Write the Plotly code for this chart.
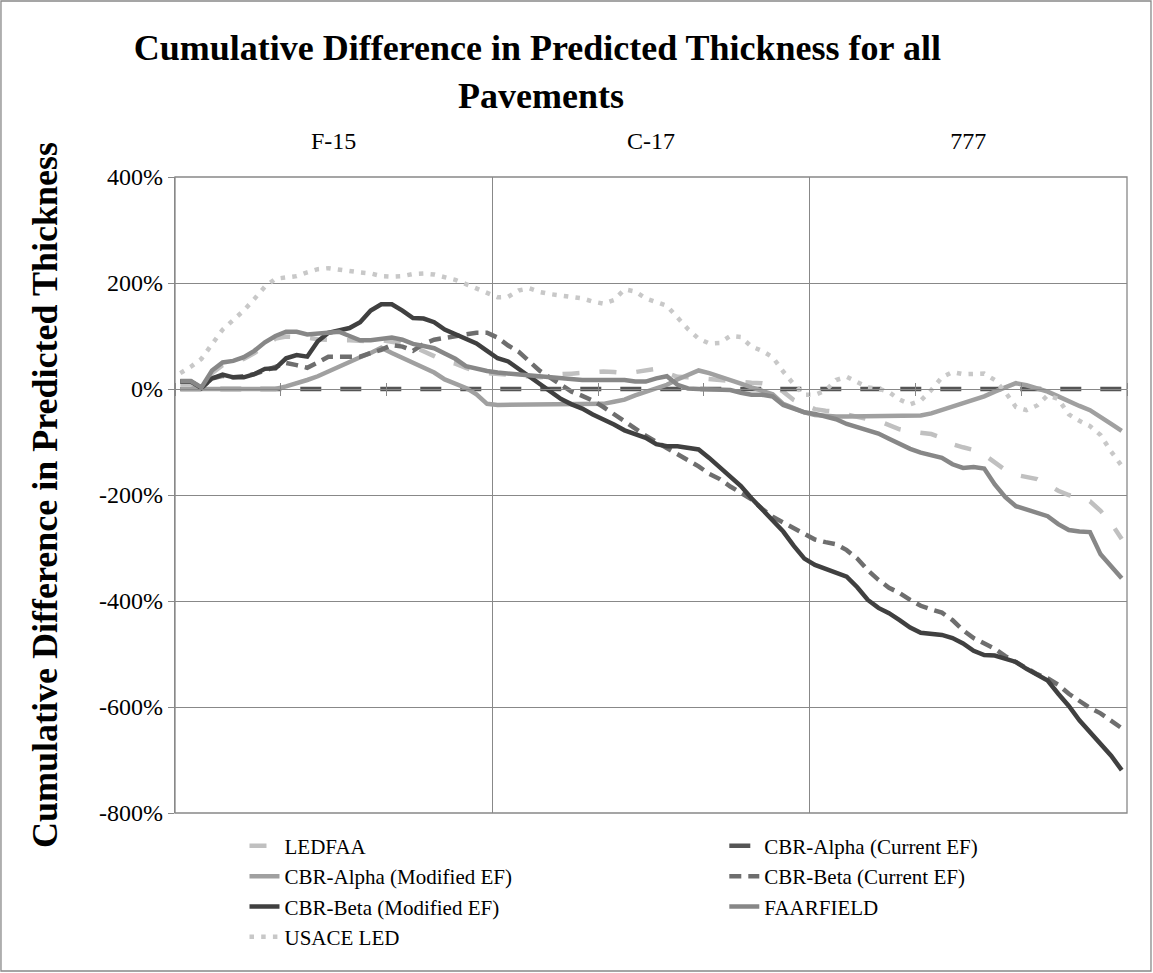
import plotly.graph_objects as go

# 30 pavement cases per aircraft, 90 points in all
groups = ["F-15", "C-17", "777"]
x = list(range(90))
y_ticks = [-800, -600, -400, -200, 0, 200, 400]
y_tick_text = ["-800%", "-600%", "-400%", "-200%", "0%", "200%", "400%"]

ledfaa = [10, 10, 2, 30, 45, 50, 57, 68, 82, 95,
          99, 99, 97, 94, 92, 92, 92, 90, 90, 92,
          90, 86, 80, 72, 62, 52, 48, 40, 32, 30,
          28, 26, 24, 22, 22, 24, 28, 29, 31, 33,
          33, 32, 30, 32, 36, 38, 30, 23, 22, 20,
          18, 17, 15, 14, 12, 11, 8, -5, -21, -30,
          -38, -41, -43, -48, -53, -57, -60, -68, -76, -80,
          -82, -85, -92, -104, -110, -115, -124, -138, -153, -162,
          -166, -170, -180, -192, -200, -206, -212, -230, -253, -283]

alpha_current = [0] * 90

alpha_modified = [0, 0, 0, 0, 0, 0, 0, 0, 0, 0,
                  5, 10, 17, 24, 33, 44, 52, 60, 68, 78,
                  68, 59, 50, 40, 31, 18, 10, 2, -10, -28,
                  -30, -30, -30, -30, -30, -30, -30, -30, -30, -30,
                  -28, -24, -20, -12, -5, 0, 8, 18, 27, 35,
                  30, 24, 18, 10, 3, -3, -10, -28, -36, -44,
                  -49, -51, -52, -52, -52, -52, -52, -52, -52, -52,
                  -50, -46, -40, -34, -28, -21, -14, -5, 4, 11,
                  7, 1, -5, -14, -24, -32, -40, -52, -66, -79]

beta_current = [14, 14, 2, 20, 25, 22, 24, 28, 35, 42,
                49, 45, 40, 50, 61, 61, 60, 61, 68, 74,
                83, 80, 72, 85, 93, 97, 100, 103, 106, 106,
                97, 82, 70, 52, 34, 21, 8, -5, -13, -22,
                -34, -48, -62, -75, -88, -100, -111, -122, -134, -146,
                -160, -170, -184, -195, -208, -226, -241, -252, -263, -272,
                -284, -289, -293, -304, -320, -342, -360, -375, -385, -398,
                -409, -416, -422, -436, -455, -470, -481, -490, -504, -515,
                -528, -538, -546, -558, -575, -588, -602, -612, -625, -640]

beta_modified = [14, 14, 2, 20, 27, 22, 22, 28, 38, 39,
                 58, 64, 61, 90, 106, 110, 115, 126, 148, 160,
                 160, 148, 134, 133, 126, 112, 103, 95, 86, 72,
                 58, 52, 38, 24, 10, -6, -19, -29, -37, -48,
                 -57, -67, -78, -85, -92, -104, -108, -108, -110, -114,
                 -130, -148, -165, -183, -206, -228, -250, -269, -296, -320,
                 -332, -340, -346, -354, -374, -398, -413, -423, -436, -450,
                 -460, -463, -464, -470, -480, -494, -502, -503, -508, -515,
                 -528, -540, -550, -575, -598, -625, -647, -667, -692, -719]

faarfield = [15, 15, 3, 35, 50, 53, 60, 72, 88, 100,
             108, 108, 103, 105, 108, 108, 100, 92, 92, 94,
             97, 93, 85, 81, 77, 67, 57, 43, 38, 34,
             31, 29, 27, 25, 23, 21, 19, 18, 17, 17,
             17, 17, 17, 14, 14, 20, 24, 8, 1, 0,
             0, -1, -2, -7, -11, -11, -14, -30, -38, -44,
             -47, -52, -57, -66, -72, -78, -84, -94, -104, -113,
             -120, -126, -130, -142, -149, -147, -150, -180, -204, -221,
             -228, -234, -240, -255, -266, -269, -270, -312, -336, -357]

usace_led = [30, 42, 57, 86, 112, 130, 148, 170, 193, 208,
             211, 213, 220, 226, 228, 225, 221, 220, 218, 213,
             212, 213, 217, 218, 216, 211, 206, 198, 190, 180,
             173, 174, 186, 190, 183, 179, 177, 175, 171, 165,
             161, 168, 188, 184, 171, 164, 157, 135, 113, 95,
             86, 87, 100, 98, 80, 72, 60, 33, 9, -11,
             -11, -3, 17, 23, 12, 3, 1, -6, -20, -29,
             -22, -2, 22, 32, 28, 28, 29, 17, -6, -34,
             -40, -31, -12, -19, -48, -60, -70, -87, -118, -145]

# name, values, colour, dash, width, legend column
series = [
    ("LEDFAA", ledfaa, "#c0c0c0", "17px,20px", 4.5, "legend"),
    ("CBR-Alpha (Current EF)", alpha_current, "#555555", "21px,19px", 4.5, "legend2"),
    ("CBR-Alpha (Modified EF)", alpha_modified, "#a0a0a0", "solid", 4.5, "legend"),
    ("CBR-Beta (Current EF)", beta_current, "#6e6e6e", "12px,7px", 4.5, "legend2"),
    ("CBR-Beta (Modified EF)", beta_modified, "#404040", "solid", 4.5, "legend"),
    ("FAARFIELD", faarfield, "#878787", "solid", 4.5, "legend2"),
    ("USACE LED", usace_led, "#c8c8c8", "4.5px,7.2px", 4.5, "legend"),
]

serif = "Liberation Serif, Times New Roman, serif"
grid = "#888888"

fig = go.Figure()
for name, vals, color, dash, width, leg in series:
    fig.add_trace(go.Scatter(
        x=x, y=vals, name=name, mode="lines", legend=leg,
        line=dict(color=color, dash=dash, width=width),
    ))

# top axis carrying the aircraft names
fig.add_trace(go.Scatter(x=[0, 89], y=[None, None], xaxis="x2",
                         showlegend=False, hoverinfo="skip"))
# upward tick marks on the zero line
fig.add_trace(go.Scatter(x=[0, 89], y=[None, None], xaxis="x3",
                         showlegend=False, hoverinfo="skip"))

legend_style = dict(orientation="v", yanchor="top", y=-0.02, xanchor="left",
                    font=dict(size=21, family=serif), bgcolor="rgba(0,0,0,0)")

fig.update_layout(
    width=1153, height=973,
    paper_bgcolor="white", plot_bgcolor="white",
    margin=dict(l=175, r=26, t=177, b=160, autoexpand=False),
    font=dict(family=serif, size=24, color="black"),
    title=dict(text="<b>Cumulative Difference in Predicted Thickness for all</b>",
               x=0.466, xanchor="center", y=0.951, yanchor="middle",
               font=dict(size=36, family=serif)),
    annotations=[dict(text="<b>Pavements</b>", xref="paper", yref="paper",
                      x=0.384, y=1.127, showarrow=False, yanchor="middle",
                      font=dict(size=36, family=serif))],
    xaxis=dict(range=[-0.5, 89.5], anchor="free", position=2 / 3,
               tickvals=[-0.5, 29.5, 59.5, 89.5], showticklabels=False,
               ticks="", showgrid=True, gridcolor=grid, gridwidth=1.3,
               showline=True, linecolor=grid, linewidth=1.3, zeroline=False,
               minor=dict(tick0=-0.5, dtick=10, ticks="outside", ticklen=6,
                          tickcolor=grid, tickwidth=1.3, showgrid=False)),
    xaxis3=dict(range=[-0.5, 89.5], overlaying="x", anchor="free", position=2 / 3,
                tickvals=[-0.5, 29.5, 59.5, 89.5], showticklabels=False,
                ticks="", showgrid=False, showline=False, zeroline=False,
                minor=dict(tick0=-0.5, dtick=10, ticks="inside", ticklen=6,
                           tickcolor=grid, tickwidth=1.3, showgrid=False)),
    xaxis2=dict(range=[-0.5, 89.5], overlaying="x", side="top", anchor="y",
                tickvals=[14.5, 44.5, 74.5], ticktext=groups,
                ticks="outside", ticklen=17, tickcolor="rgba(0,0,0,0)",
                showgrid=False, zeroline=False, showline=False,
                tickfont=dict(size=24, family=serif)),
    yaxis=dict(range=[-800, 400], tickvals=y_ticks, ticktext=y_tick_text,
               showgrid=True, gridcolor=grid, gridwidth=1.3,
               zeroline=False, showline=True, linecolor=grid, linewidth=1.3,
               ticks="outside", ticklen=6, tickcolor=grid,
               tickfont=dict(size=24, family=serif),
               title=dict(text="<b>Cumulative Difference in Predicted Thickness</b>",
                          font=dict(size=36, family=serif), standoff=30)),
    legend=dict(x=0.073, **legend_style),
    legend2=dict(x=0.577, **legend_style),
    shapes=[
        dict(type="rect", xref="paper", yref="paper", x0=0, x1=1, y0=0, y1=1,
             line=dict(color=grid, width=1.3), layer="below"),
        dict(type="rect", xref="paper", yref="paper",
             x0=-0.1828, x1=1.0252, y0=-0.2484, y1=1.2767,
             line=dict(color=grid, width=1.3)),
    ],
)

# drop the page's default body margin so the figure sits at the window corner
fig.write_html("out.html", config={"displayModeBar": False},
               post_script="document.body.style.margin='0';")
